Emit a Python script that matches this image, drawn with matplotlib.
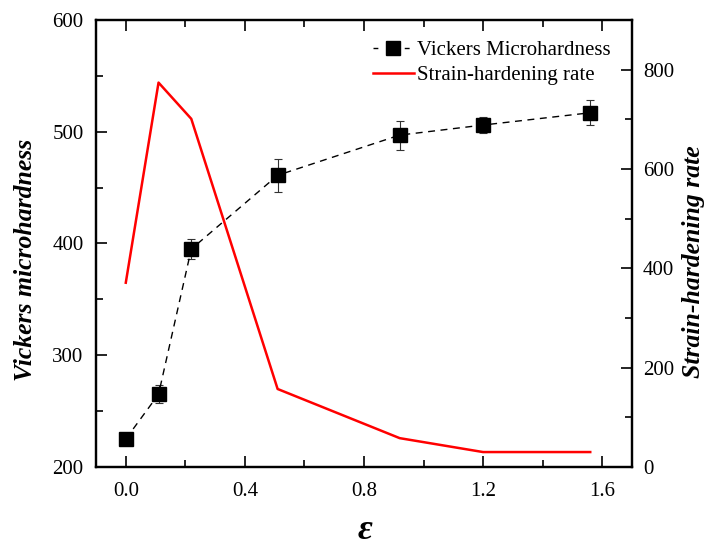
import matplotlib
matplotlib.use("Agg")
import matplotlib.pyplot as plt
from matplotlib.lines import Line2D
from matplotlib.ticker import MultipleLocator

# true strain after each pass
strain = [0.0, 0.11, 0.22, 0.51, 0.92, 1.2, 1.56]

# Vickers microhardness (HV) with error bars
hv_strain = [0.0, 0.11, 0.22, 0.51, 0.92, 1.2, 1.56]
hv = [225, 265, 395, 461, 497, 506, 517]
hv_err = [0, 8, 9, 15, 13, 7, 11]

# strain-hardening rate (MPa)
shr = [371, 774, 701, 157, 58, 30, 30]

plt.rcParams['font.family'] = ['Liberation Serif', 'DejaVu Serif']

fig = plt.figure(figsize=(7.07, 5.5), dpi=100)
ax = fig.add_axes([0.1358, 0.151, 0.758, 0.8126])
ax2 = ax.twinx()

ax.errorbar(hv_strain, hv, yerr=hv_err, color='black', ls=(0, (5, 4)), lw=1.0,
            marker='s', ms=10, mfc='black', mec='black', ecolor='#333333',
            elinewidth=0.8, capsize=3, capthick=0.8, zorder=3)
ax2.plot(strain, shr, color='red', lw=1.8)

ax.set_xlim(-0.1, 1.7)
ax.set_ylim(200, 600)
ax2.set_ylim(0, 900)

ax.xaxis.set_major_locator(MultipleLocator(0.4))
ax.xaxis.set_minor_locator(MultipleLocator(0.2))
ax.yaxis.set_major_locator(MultipleLocator(100))
ax.yaxis.set_minor_locator(MultipleLocator(50))
ax2.yaxis.set_major_locator(MultipleLocator(200))
ax2.yaxis.set_minor_locator(MultipleLocator(100))
ax.xaxis.set_major_formatter(plt.FuncFormatter(lambda v, p: f"{v:.1f}"))

ax.tick_params(axis='x', which='both', direction='in', top=True, labelsize=15, pad=11)
ax.tick_params(axis='y', which='both', direction='in', labelsize=15, pad=9)
ax2.tick_params(axis='y', which='both', direction='in', labelsize=15, pad=8)
for a in (ax, ax2):
    a.tick_params(which='major', length=8, width=1.2)
    a.tick_params(which='minor', length=5, width=1.2)
    for s in a.spines.values():
        s.set_linewidth(1.6)

# axis titles
fig.text(0.516, 0.006, 'ε', fontsize=26, fontweight='bold', fontstyle='italic',
         ha='center', va='bottom')
fig.text(0.0354, 0.527, 'Vickers microhardness', fontsize=18.5, fontweight='bold',
         fontstyle='italic', rotation=90, ha='center', va='center')
fig.text(0.9816, 0.524, 'Strain-hardening rate', fontsize=18.5, fontweight='bold',
         fontstyle='italic', rotation=90, ha='center', va='center')

# legend proxies: marker without error bar
h1 = Line2D([], [], color='black', ls=(0, (3.5, 19)), lw=1.0, marker='s',
            ms=10, mfc='black', mec='black')
h2 = Line2D([], [], color='red', lw=1.8)
ax2.legend([h1, h2], ['Vickers Microhardness', 'Strain-hardening rate'],
           loc='upper right', frameon=False, fontsize=15,
           handlelength=2.0, handletextpad=0.15, borderaxespad=0.6,
           borderpad=0.4, labelspacing=0.25)

fig.savefig('out.png', dpi=100)
